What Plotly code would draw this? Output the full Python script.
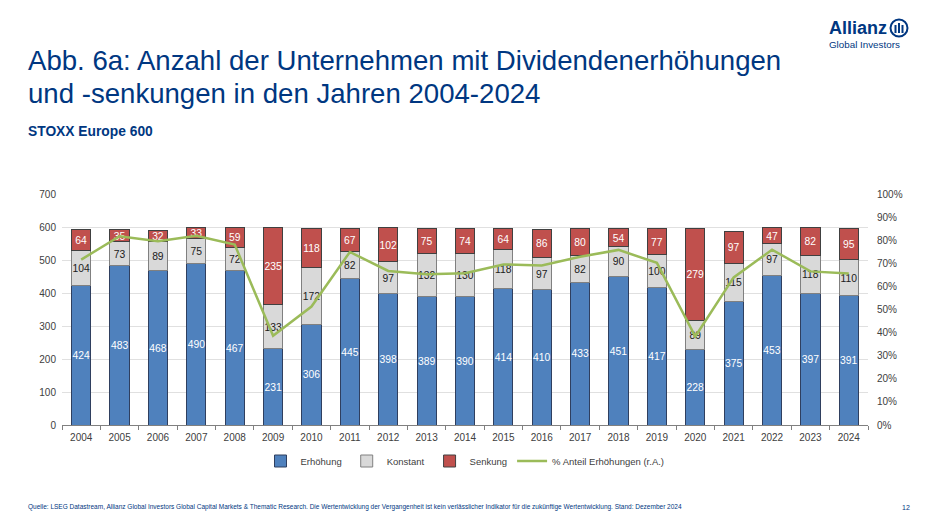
import plotly.graph_objects as go

years = [str(y) for y in range(2004, 2025)]
erhoehung = [424, 483, 468, 490, 467, 231, 306, 445, 398, 389, 390, 414, 410, 433, 451, 417, 228, 375, 453, 397, 391]
konstant = [104, 73, 89, 75, 72, 133, 172, 82, 97, 132, 130, 118, 97, 82, 90, 100, 89, 115, 97, 118, 110]
senkung = [64, 35, 32, 33, 59, 235, 118, 67, 102, 75, 74, 64, 86, 80, 54, 77, 279, 97, 47, 82, 95]
anteil = [0.716, 0.817, 0.795, 0.819, 0.781, 0.386, 0.513, 0.749, 0.667, 0.653, 0.657,
          0.695, 0.691, 0.728, 0.758, 0.702, 0.383, 0.639, 0.759, 0.665, 0.656]

BLUE = "#003781"
FONT = "Liberation Sans, Arial, sans-serif"

W, H = 940, 529
L, R, T, B = 62, 72, 194, 104
PW, PH = W - L - R, H - T - B


def px(x):
    return (x - L) / PW


def py(y):
    return (H - B - y) / PH


fig = go.Figure()
fig.add_trace(go.Bar(x=years, y=erhoehung, name="Erhöhung", marker=dict(color="#4F81BD", line=dict(color="#2F3F5F", width=1)),
                     text=erhoehung, textposition="inside", insidetextanchor="middle",
                     textfont=dict(color="white", size=10.5), textangle=0))
fig.add_trace(go.Bar(x=years, y=konstant, name="Konstant", marker=dict(color="#D9D9D9", line=dict(color="#808080", width=1)),
                     text=konstant, textposition="inside", insidetextanchor="middle",
                     textfont=dict(color="#202020", size=10.5), textangle=0))
fig.add_trace(go.Bar(x=years, y=senkung, name="Senkung", marker=dict(color="#C0504D", line=dict(color="#404040", width=1)),
                     text=senkung, textposition="inside", insidetextanchor="middle",
                     textfont=dict(color="white", size=10.5), textangle=0))
fig.add_trace(go.Scatter(x=years, y=anteil, name="% Anteil Erhöhungen (r.A.)", yaxis="y2", mode="lines",
                         line=dict(color="#9BBB59", width=2.5)))

fig.update_layout(
    width=W, height=H,
    margin=dict(l=L, r=R, t=T, b=B),
    barmode="stack", bargap=0.5,
    plot_bgcolor="white", paper_bgcolor="white",
    font=dict(family=FONT, size=10, color="#404040"),
    uniformtext=dict(minsize=10, mode="show"),
    showlegend=True,
    legend=dict(orientation="h", x=0.5, xanchor="center", y=py(461), yanchor="middle",
                font=dict(size=9.5, color="#404040"), traceorder="normal", itemwidth=30),
    xaxis=dict(type="category", tickson="boundaries", ticks="outside", ticklen=4, tickcolor="#808080",
               showline=True, linecolor="#808080", showgrid=False, tickfont=dict(size=10, color="#404040"),
               ticklabelstandoff=3),
    yaxis=dict(range=[0, 700], dtick=100, showgrid=True, gridcolor="#E0E0E0", zeroline=False,
               showline=False, tickfont=dict(size=10, color="#404040"), ticklabelstandoff=5),
    yaxis2=dict(range=[0, 1], dtick=0.1, tickformat=".0%", overlaying="y", side="right",
                showgrid=False, zeroline=False, tickfont=dict(size=10, color="#404040"), ticklabelstandoff=8),
)

ann = [
    dict(text="Abb. 6a: Anzahl der Unternehmen mit Dividendenerhöhungen", x=px(26), y=py(60),
         font=dict(size=27.6, color=BLUE)),
    dict(text="und -senkungen in den Jahren 2004-2024", x=px(26), y=py(93),
         font=dict(size=27.6, color=BLUE)),
    dict(text="<b>STOXX Europe 600</b>", x=px(26), y=py(131), font=dict(size=13.8, color=BLUE)),
    dict(text="<b>Allianz</b>", x=px(827), y=py(28), font=dict(size=18, color=BLUE)),
    dict(text="Global Investors", x=px(827), y=py(44), font=dict(size=9.8, color=BLUE)),
    dict(text="Quelle: LSEG Datastream, Allianz Global Investors Global Capital Markets &amp; Thematic Research. "
              "Die Wertentwicklung der Vergangenheit ist kein verlässlicher Indikator für die zukünftige Wertentwicklung. "
              "Stand: Dezember 2024",
         x=px(26), y=py(507), font=dict(size=6.5, color=BLUE)),
    dict(text="12", x=px(900), y=py(507), font=dict(size=7, color=BLUE)),
]
for a in ann:
    fig.add_annotation(xref="paper", yref="paper", xanchor="left", yanchor="middle", showarrow=False,
                       **a)

# Allianz circle logo
cx, cy, r = 899, 28, 8.5
fig.add_shape(type="circle", xref="paper", yref="paper", x0=px(cx - r), x1=px(cx + r), y0=py(cy + r), y1=py(cy - r),
              line=dict(color=BLUE, width=2))
for dx, top in [(-3.5, -3), (0, -5), (3.5, -3)]:
    fig.add_shape(type="line", xref="paper", yref="paper", x0=px(cx + dx), x1=px(cx + dx), y0=py(cy + 5), y1=py(cy + top),
                  line=dict(color=BLUE, width=2))

fig.write_html("out.html", config={"displayModeBar": False},
               post_script="document.body.style.margin='0';")
